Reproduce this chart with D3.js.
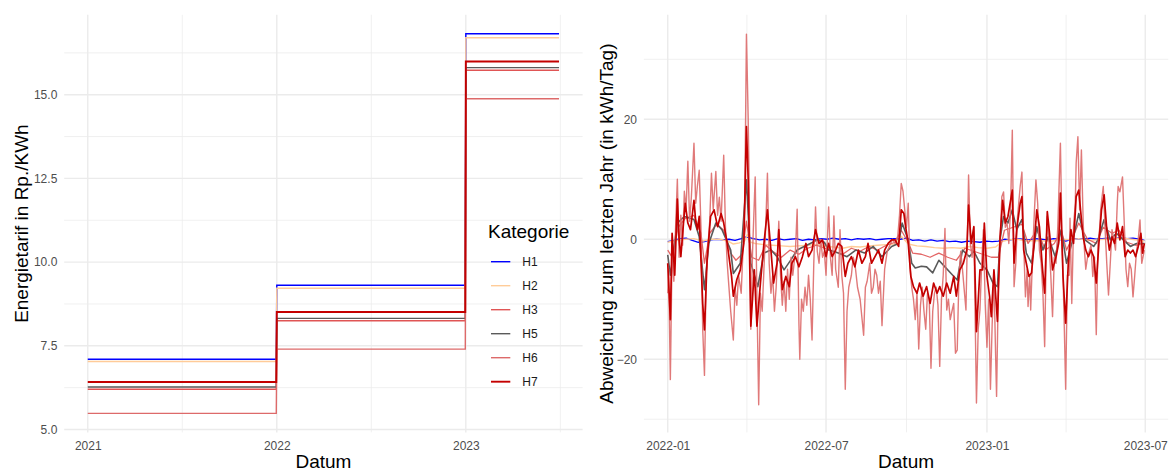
<!DOCTYPE html>
<html><head><meta charset="utf-8">
<script src="https://cdn.jsdelivr.net/npm/d3@7"></script>
<style>
body{margin:0;background:#fff;}
svg{display:block;font-family:"Liberation Sans",Arial,sans-serif;}
</style>
</head><body>
<svg id="chart" width="1173" height="470"></svg>
<script>
// ---------------- DATA ----------------
const categories = ["H1","H2","H3","H5","H6","H7"];

// Left panel: energy tariff (Rp./kWh) per year
const tariffStart = ["2021-01-01","2022-01-01","2023-01-01"];
const tariffEnd   = ["2021-12-31","2022-12-31","2023-06-30"];
const tariffH1 = [7.10, 9.31, 16.82];
const tariffH2 = [7.03, 9.22, 16.70];
const tariffH3 = [6.20, 8.25, 15.73];
const tariffH5 = [6.27, 8.32, 15.81];
const tariffH6 = [5.48, 7.40, 14.88];
const tariffH7 = [6.42, 8.51, 15.99];
const tariffXTicks = ["2021-01-01","2022-01-01","2023-01-01"];
const tariffYTicks = [5.0, 7.5, 10.0, 12.5, 15.0];

// Right panel: deviation to last year (kWh/day), [day offset from devStart, value]
const devStart = "2022-01-01";
const devH1 = [[0,-0.4],[7,-0.2],[14,0.1],[21,0.2],[28,-0.2],[35,-0.5],[42,-0.4],[49,-0.1],[56,0],[63,-0.1],[70,0],[77,-0.2],[84,0.1],[90,0.4],[98,0.1],[105,-0.1],[112,0],[119,-0.2],[126,0.1],[133,-0.1],[140,0],[147,0.1],[154,-0.2],[161,0],[168,-0.1],[175,0.1],[182,0],[189,0.2],[196,0],[203,0.1],[210,-0.1],[217,0.1],[224,0],[231,0.1],[238,-0.1],[245,0],[252,0.1],[259,0.1],[266,0],[273,0.2],[280,-0.2],[287,-0.1],[294,-0.3],[301,-0.1],[308,-0.3],[315,-0.2],[322,-0.4],[329,-0.3],[336,-0.5],[343,-0.3],[350,-0.4],[357,-0.5],[364,-0.3],[371,-0.4],[378,-0.3],[385,0],[392,-0.1],[399,0.1],[406,0],[413,-0.1],[420,0.1],[427,0],[434,-0.1],[441,0.1],[448,0],[455,-0.3],[462,0],[469,0.1],[476,0],[483,0.2],[490,0],[497,0.1],[504,0.2],[511,0.1],[518,0.3],[525,0.1],[532,0.2],[539,0],[545,-0.2]];
const devH2 = [[0,-0.5],[10,-0.2],[20,0],[30,0.1],[40,-0.3],[50,0],[60,0],[70,-0.4],[75,-0.8],[82,-0.6],[88,-0.3],[91,0.8],[95,-0.5],[100,-0.7],[110,-0.9],[120,-1],[130,-1.1],[140,-1.2],[150,-1.1],[160,-1],[170,-0.9],[180,-1.2],[190,-1.3],[200,-1.5],[210,-1.2],[220,-1.3],[230,-1.1],[240,-1],[250,-0.9],[260,-0.8],[267,0.5],[275,-0.8],[285,-1.1],[295,-1.2],[305,-1.4],[315,-1.5],[325,-1.4],[335,-1.5],[345,-1.2],[355,-1.4],[365,-1.5],[375,-1.3],[382,-0.4],[390,-0.1],[400,0],[410,-0.3],[420,-0.2],[430,-0.3],[440,-0.3],[450,0],[460,-0.1],[470,0.1],[480,-0.2],[490,-0.1],[500,0],[510,0.1],[520,0.2],[530,0],[545,-0.3]];
const devH3 = [[0,-1.8],[5,-3],[12,2],[20,3.5],[30,4],[38,1],[42,-4],[48,1],[56,2.5],[64,1.5],[72,-2.3],[78,-3.5],[85,-2.5],[90,3],[96,-3],[104,-3.5],[112,-1],[120,-2],[130,-3],[140,-1.8],[150,-2.5],[160,-1.5],[170,-1],[180,-1.5],[190,-2],[200,-2.5],[210,-1.5],[220,-2],[230,-1.2],[240,-1.8],[250,-1],[260,-0.5],[267,1.5],[275,-0.5],[280,-2.3],[290,-2.5],[300,-3],[310,-2.3],[320,-3],[330,-3.5],[340,-1.5],[350,-2],[360,-2.5],[370,-3],[378,-3],[385,1.5],[395,2],[405,2.5],[412,-0.7],[422,1.5],[432,-1.8],[442,-0.7],[450,1.5],[456,-1.8],[465,1],[470,2.7],[480,0],[490,-0.7],[498,2],[508,1],[516,1.5],[525,-0.5],[535,-1],[545,-0.7]];
const devH5 = [[0,-2.6],[3,-6],[11,2.7],[19,3.8],[30,3.3],[36,0.4],[42,-8.4],[47,-0.7],[55,2.7],[62,1.6],[72,-1.8],[75,-5.7],[83,-4],[90,9.9],[95,-4],[103,-7.9],[110,-2.3],[118,-1.8],[125,-2.9],[133,-5.1],[141,-3.4],[148,-1.8],[156,-1.2],[163,-0.7],[171,-0.1],[179,-0.5],[184,-1.8],[195,-2.3],[205,-2.9],[215,-1.8],[225,-2.3],[235,-1.2],[245,-2.9],[256,-1.2],[264,-0.7],[268,2.7],[271,1.5],[275,-0.1],[279,-4],[283,-4.8],[290,-4.5],[296,-4.6],[303,-5.6],[310,-3.5],[317,-4.6],[324,-5.7],[331,-6.8],[337,-1.8],[345,-2.9],[350,-2],[357,-4],[365,-5.1],[372,-7.3],[377,-7.9],[380,0],[384,3.8],[389,2.7],[394,4.9],[399,1.6],[405,3.3],[410,-2.3],[416,-4],[422,2.1],[429,-1.8],[435,0.4],[443,-2.9],[450,1.6],[456,-4],[464,0.4],[470,4.3],[477,-0.1],[487,-1.2],[492,-0.1],[499,3.3],[506,-0.1],[513,1.0],[521,-0.1],[529,-1.2],[536,-0.7],[545,-0.7]];
const devH6 = [[0,-9],[1,-5],[3,-23.4],[5,-2],[7,-7],[9,2],[11,10],[13,-3],[15,4],[17,-1],[19,8],[21,5],[23,13],[25,3],[27,7],[30,16],[32,6],[34,9],[36,11.5],[38,2],[40,-15],[42,-22.7],[44,-6],[46,-1],[48,3],[50,11],[52,5],[55,11.3],[57,4],[59,7],[61,3],[64,14],[66,2],[68,-4],[70,-8],[72,-12],[75,-16.8],[77,-8],[79,-11],[81,-6],[84,-9],[86,-2],[88,5],[90,34.2],[92,20],[93,10],[95,-15],[97,-2],[100,10.4],[102,-10],[104,-27.6],[106,-9],[108,-12],[110,-5],[112,2],[114,11],[116,-4],[118,-9],[120,-6],[122,-12],[124,-8],[127,3],[129,-6],[131,-11],[133,-7],[135,-12],[137,-5],[139,-10],[141,-3],[143,-6],[146,-2],[148,5],[150,-14],[151,-20],[153,-10],[155,-12],[157,-8],[159,-11],[161,-6],[163,-10],[165,-16.8],[167,-4],[169,5.4],[171,-2],[173,-4],[175,0],[177,-3],[179,-2],[181,-6],[184,5.4],[186,-3],[188,-6],[190,3.9],[192,-5],[195,-8],[197,1.6],[199,-6],[201,-9],[203,-25],[205,-12],[207,-8],[210,-6],[212,-3],[214,-4],[217,-8],[220,-10],[224,-16],[226,-8],[228,-7],[231,-4],[233,-9],[235,-8],[237,-5],[239,-6],[241,-9],[243,-7],[245,-14.4],[248,-5],[251,-2],[254,-1],[257,0],[260,-0.7],[263,0.5],[265,4],[267,9.3],[269,8],[271,4.9],[273,2],[275,6],[277,-4.6],[279,-8],[281,-10],[283,-13.4],[285,-9],[287,-18.3],[289,-11],[291,-8],[293,-12],[295,-15],[297,-9],[299,-10],[301,-21.5],[303,-12],[305,-9],[307,-8],[309,-11],[311,-21.2],[313,-10],[315,-6],[317,1.8],[319,-11.8],[321,-10],[323,-13.4],[325,-12],[327,-10.7],[329,-19],[331,-18.5],[333,-6],[335,-2],[337,-5],[339,-8.4],[341,-11.8],[344,10.7],[346,-0.7],[348,-3],[350,2],[353,-27.3],[355,-15],[357,-11.8],[359,-4],[361,1.6],[363,-10.7],[365,-18],[367,-10],[369,-25],[371,-14],[373,-6.2],[375,-20],[376,-26.2],[378,-8],[380,-0.7],[382,7.1],[384,7.9],[386,2],[388,2.7],[390,-0.7],[392,5],[394,18.2],[396,-7.9],[398,-4],[400,3.8],[403,8.8],[405,11.2],[407,-0.7],[409,-9.6],[411,-5],[412,-11.2],[414,-6],[415,-11.8],[417,-3.4],[419,3.8],[421,9.9],[423,6],[425,-1.8],[427,-4],[429,-9],[431,-17.9],[433,0],[434,3.8],[436,-0.7],[438,-6],[440,-12.9],[442,-3],[444,-4],[446,2.1],[449,16],[451,-0.7],[453,-11.8],[455,-25],[457,-6],[459,-6],[460,3.5],[462,-10.7],[464,2.1],[466,6],[467,12.7],[469,17.1],[471,4.9],[473,14.9],[475,3],[476,-0.7],[478,-5],[480,-3],[482,-2],[484,-1],[486,-6.2],[488,-3],[490,-15.9],[492,-0.7],[494,2],[495,4.9],[498,8.8],[500,2],[502,-4],[504,-9.3],[506,-4],[508,1.6],[510,0],[512,-1.8],[514,6],[515,8.8],[517,7.9],[520,10.4],[522,2.7],[524,-5],[526,-7.9],[528,-4],[530,-5],[532,-9.6],[534,-6],[536,-2],[538,0],[540,3.2],[542,-4],[545,-1.8]];
const devH7 = [[0,-4],[3,-13.4],[5,1],[8,-6],[11,6.7],[13,0],[15,-2.9],[18,2.7],[20,6],[23,2.7],[26,1.6],[28,4],[30,6.5],[32,3],[34,1.6],[36,3.8],[40,-10.7],[42,-15.1],[45,-3.4],[49,3.8],[53,4.9],[57,2.1],[61,4.3],[64,2.7],[68,-0.7],[73,-6.2],[75,-9.5],[79,-6.7],[83,-5.1],[87,-0.7],[90,18.8],[92,9.9],[95,-14.5],[99,-5.1],[102,-14.5],[106,-7.3],[110,-0.7],[114,4.9],[118,-1.8],[121,-7.3],[125,-4],[127,1.6],[131,-8.4],[135,-6.2],[139,-7.9],[142,-4],[146,-2.9],[150,-4.6],[154,-2.9],[158,-0.7],[161,-2.9],[165,-1.8],[169,1.6],[173,-0.7],[177,-0.1],[181,-2.9],[184,-0.7],[188,-2.9],[192,-1.8],[195,-0.7],[199,-1.2],[203,-6.2],[206,-4],[210,-2.9],[214,-4.6],[218,-1.8],[222,-4],[226,-2.9],[229,-0.7],[233,-4],[237,-2.9],[241,-1.8],[245,-4],[248,-1.8],[252,-0.7],[256,-0.1],[260,-0.1],[264,-1.2],[267,4.9],[270,4.3],[272,2.1],[275,-0.7],[278,-6.2],[281,-7.9],[285,-9],[288,-7.3],[292,-9.5],[296,-7.9],[300,-10.7],[304,-7.3],[308,-9],[311,-7.9],[315,-9.5],[319,-7.3],[323,-9],[327,-6.2],[330,-9.5],[334,-5.1],[338,-4],[342,-1.8],[344,5.7],[347,-0.7],[350,2.1],[353,-15.4],[357,-5.1],[360,-5.1],[362,2.7],[365,-6.2],[368,-9.5],[370,-12.9],[373,-5.1],[377,-13.7],[380,0.4],[383,6.5],[386,2.7],[389,3.8],[394,8.2],[396,-4],[399,1.6],[403,6],[405,7.1],[407,-1.8],[410,-4],[413,-6.2],[416,-5.6],[419,-0.7],[422,4.9],[425,2.1],[428,-4],[431,-9],[434,4.6],[437,0.4],[440,-5.1],[444,-2.9],[447,-0.7],[449,7.7],[452,-6.2],[455,-14],[458,-4],[461,1.6],[464,-0.7],[467,7.1],[470,8.2],[472,4.9],[475,0.4],[478,-1.8],[481,-2.9],[484,-1.8],[487,-2.9],[490,-7.3],[493,-0.7],[496,4.9],[499,7.4],[502,1.6],[505,-1.8],[508,0.4],[511,-0.7],[514,2.7],[517,-0.1],[520,2.1],[523,-2.9],[526,-1.8],[529,-2.3],[532,-1.8],[535,-2.9],[538,-1.2],[541,1.0],[543,-2.3],[545,-0.7]];
const devXTicks = ["2022-01-01","2022-07-01","2023-01-01","2023-07-01"];
const devYTicks = [-20, 0, 20];
const devYMinor = [-30, -10, 10, 30];
const devYDomain = [-32.2, 37.42];

// ---------------- STYLE ----------------
const colorOf = {H1:"#0000FF", H2:"#FFCC99", H3:"#E05555", H5:"#5A5A5A", H6:"#DD6A6A", H7:"#C40000"};
const widthL  = {H1:1.4, H2:1.4, H3:1.4, H5:1.4, H6:1.4, H7:1.9};
const widthR  = {H1:1.3, H2:1.4, H3:1.3, H5:1.6, H6:1.4, H7:1.7};
const opacR   = {H1:1, H2:1, H3:0.9, H5:1, H6:0.9, H7:1};
const GRID = "#EBEBEB", TICKC = "#4D4D4D";
const FONT_TICK = "12px", FONT_TITLE = "19px";

// ---------------- BUILD ----------------
const parse = d3.utcParse("%Y-%m-%d");
const DAY = 864e5;
const svg = d3.select("#chart");

const tariffTable = {H1:tariffH1, H2:tariffH2, H3:tariffH3, H5:tariffH5, H6:tariffH6, H7:tariffH7};
const devTable = {H1:devH1, H2:devH2, H3:devH3, H5:devH5, H6:devH6, H7:devH7};

const tariffSeries = categories.map(k => {
  const pts = [];
  tariffTable[k].forEach((v, i) => {
    pts.push({date: parse(tariffStart[i]), v});
    pts.push({date: parse(tariffEnd[i]), v});
  });
  return {key: k, pts};
});
const t0 = parse(devStart).getTime();
const devSeries = categories.map(k => ({key: k, pts: devTable[k].map(([d, v]) => ({date: new Date(t0 + d * DAY), v}))}));

function expand(ext, f = 0.05) { const s = ext[1] - ext[0]; return [ext[0] - s * f, ext[1] + s * f]; }
function expandDates(ext) { const a = +ext[0], b = +ext[1], s = b - a; return [new Date(a - s * 0.05), new Date(b + s * 0.05)]; }

// panel geometry
const L = {x0: 64.2, x1: 582.6, y0: 14.8, y1: 432.4};
const R = {x0: 643.9, x1: 1168.2, y0: 14.8, y1: 432.4};

const allL = tariffSeries.flatMap(s => s.pts);
const xL = d3.scaleUtc().domain(expandDates(d3.extent(allL, d => d.date))).range([L.x0, L.x1]);
const yL = d3.scaleLinear().domain(expand(d3.extent(allL, d => d.v))).range([L.y1, L.y0]);
const allR = devSeries.flatMap(s => s.pts);
const xR = d3.scaleUtc().domain(expandDates(d3.extent(allR, d => d.date))).range([R.x0, R.x1]);
const yR = d3.scaleLinear().domain(devYDomain).range([R.y1, R.y0]);

function midpoints(vals, dom, isDate) {
  const out = [];
  const n = vals.map(v => +v);
  const lo = Math.min(+dom[0], +dom[1]), hi = Math.max(+dom[0], +dom[1]);
  for (let i = -1; i < n.length; i++) {
    let m;
    if (i === -1) m = n[0] - (n[1] - n[0]) / 2;
    else if (i === n.length - 1) m = n[i] + (n[i] - n[i - 1]) / 2;
    else m = (n[i] + n[i + 1]) / 2;
    if (m >= lo && m <= hi) out.push(isDate ? new Date(m) : m);
  }
  return out;
}

function drawGrid(g, P, x, y, xMaj, yMaj, xMin, yMin) {
  g.append("g").selectAll("line").data(yMin).join("line")
    .attr("x1", P.x0).attr("x2", P.x1).attr("y1", d => y(d)).attr("y2", d => y(d))
    .attr("stroke", GRID).attr("stroke-width", 0.75);
  g.append("g").selectAll("line").data(xMin).join("line")
    .attr("y1", P.y0).attr("y2", P.y1).attr("x1", d => x(d)).attr("x2", d => x(d))
    .attr("stroke", GRID).attr("stroke-width", 0.75);
  g.append("g").selectAll("line").data(yMaj).join("line")
    .attr("x1", P.x0).attr("x2", P.x1).attr("y1", d => y(d)).attr("y2", d => y(d))
    .attr("stroke", GRID).attr("stroke-width", 1.4);
  g.append("g").selectAll("line").data(xMaj).join("line")
    .attr("y1", P.y0).attr("y2", P.y1).attr("x1", d => x(d)).attr("x2", d => x(d))
    .attr("stroke", GRID).attr("stroke-width", 1.4);
}

function styleAxis(g) {
  g.select(".domain").remove();
  g.attr("font-family", null).attr("font-size", null);
  g.selectAll("text").attr("fill", TICKC).style("font-size", FONT_TICK);
}

// ---- LEFT PANEL
const xTickL = tariffXTicks.map(parse);
const gL = svg.append("g");
drawGrid(gL.append("g"), L, xL, yL, xTickL, tariffYTicks,
  midpoints(xTickL, xL.domain(), true), midpoints(tariffYTicks, yL.domain(), false));
const lineL = d3.line().x(d => xL(d.date)).y(d => yL(d.v));
gL.append("g").selectAll("path").data(tariffSeries).join("path")
  .attr("d", s => lineL(s.pts)).attr("fill", "none")
  .attr("stroke", s => colorOf[s.key]).attr("stroke-width", s => widthL[s.key]);
gL.append("g").attr("transform", `translate(0,${L.y1})`)
  .call(d3.axisBottom(xL).tickValues(xTickL).tickFormat(d3.utcFormat("%Y")).tickSize(0).tickPadding(8.6))
  .call(styleAxis);
gL.append("g").attr("transform", `translate(${L.x0},0)`)
  .call(d3.axisLeft(yL).tickValues(tariffYTicks).tickFormat(d3.format(".1f")).tickSize(0).tickPadding(6.9))
  .call(styleAxis);
svg.append("text").attr("x", (L.x0 + L.x1) / 2).attr("y", 467.5).attr("text-anchor", "middle")
  .style("font-size", FONT_TITLE).attr("fill", "#000").text("Datum");
svg.append("text").attr("transform", `translate(28,${(L.y0 + L.y1) / 2}) rotate(-90)`)
  .attr("text-anchor", "middle").style("font-size", FONT_TITLE).attr("fill", "#000")
  .text("Energietarif in Rp./KWh");

// legend
const lg = svg.append("g").attr("transform", "translate(488,0)");
lg.append("text").attr("x", 0).attr("y", 238.3).style("font-size", FONT_TITLE).attr("fill", "#000").text("Kategorie");
const li = lg.selectAll(".li").data(categories).join("g").attr("transform", (d, i) => `translate(0,${261.7 + i * 24})`);
li.append("line").attr("x1", 3).attr("x2", 22.3).attr("y1", 0).attr("y2", 0)
  .attr("stroke", d => colorOf[d]).attr("stroke-width", d => widthL[d]);
li.append("text").attr("x", 34.3).attr("y", 0).attr("dy", "0.36em").style("font-size", FONT_TICK)
  .attr("fill", "#1a1a1a").text(d => d);

// ---- RIGHT PANEL
const xTickR = devXTicks.map(parse);
const gR = svg.append("g");
drawGrid(gR.append("g"), R, xR, yR, xTickR, devYTicks,
  midpoints(xTickR, xR.domain(), true), devYMinor);
const lineR = d3.line().x(d => xR(d.date)).y(d => yR(d.v));
gR.append("g").selectAll("path").data(devSeries).join("path")
  .attr("d", s => lineR(s.pts)).attr("fill", "none")
  .attr("stroke", s => colorOf[s.key]).attr("stroke-width", s => widthR[s.key])
  .attr("stroke-opacity", s => opacR[s.key]).attr("stroke-linejoin", "round");
gR.append("g").attr("transform", `translate(0,${R.y1})`)
  .call(d3.axisBottom(xR).tickValues(xTickR).tickFormat(d3.utcFormat("%Y-%m")).tickSize(0).tickPadding(8.6))
  .call(styleAxis);
gR.append("g").attr("transform", `translate(${R.x0},0)`)
  .call(d3.axisLeft(yR).tickValues(devYTicks).tickFormat(d3.format("d")).tickSize(0).tickPadding(6.9))
  .call(styleAxis);
svg.append("text").attr("x", (R.x0 + R.x1) / 2).attr("y", 467.5).attr("text-anchor", "middle")
  .style("font-size", FONT_TITLE).attr("fill", "#000").text("Datum");
svg.append("text").attr("transform", `translate(612.5,${(R.y0 + R.y1) / 2}) rotate(-90)`)
  .attr("text-anchor", "middle").style("font-size", FONT_TITLE).attr("fill", "#000")
  .text("Abweichung zum letzten Jahr (in kWh/Tag)");
</script>
</body></html>
